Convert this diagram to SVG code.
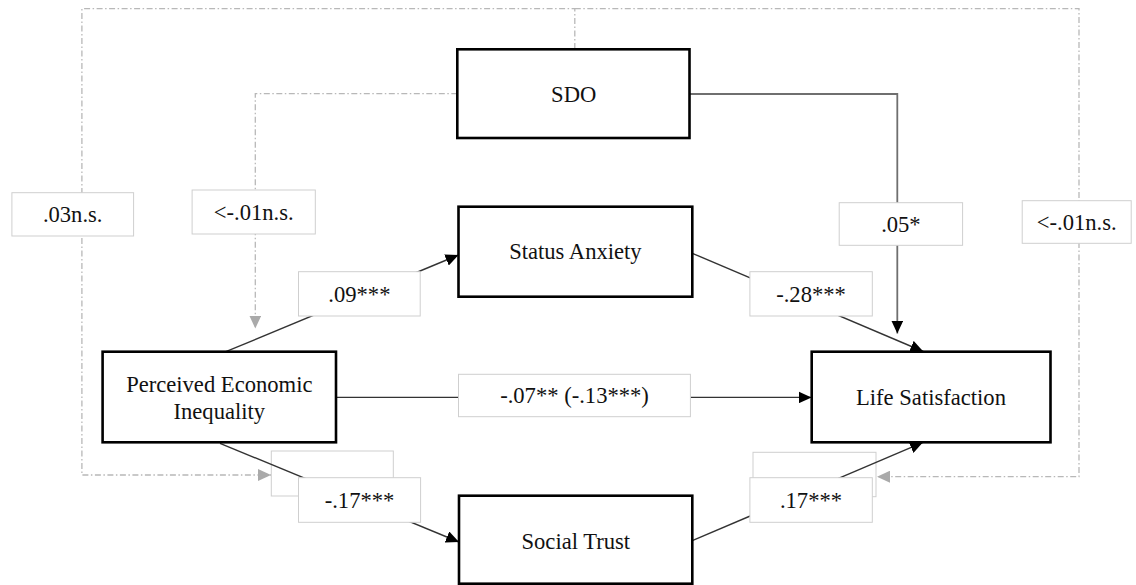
<svg xmlns="http://www.w3.org/2000/svg" width="1136" height="585" viewBox="0 0 1136 585">
<style>
.node rect{fill:#fff;stroke:#000;stroke-width:2.6}
text{font-family:'Liberation Serif','Times New Roman',Times,serif;font-size:22.6px;fill:#111;text-anchor:middle}
.lbl rect{fill:#fff;stroke:#cfcfcf;stroke-width:1}
.solid{fill:none;stroke:#333;stroke-width:1.4}
.grey{fill:none;stroke:#6f6f6f;stroke-width:1.8}
.dash{fill:none;stroke:#b8b8b8;stroke-width:1.3;stroke-dasharray:6 2.5 1.5 2.5}
</style>
<defs>
<marker id="ab" markerUnits="userSpaceOnUse" markerWidth="14" markerHeight="12" refX="13" refY="6" orient="auto"><path d="M0,0 L13,6 L0,12 z" fill="#000"/></marker>
<marker id="ag" markerUnits="userSpaceOnUse" markerWidth="14" markerHeight="12" refX="13" refY="6" orient="auto"><path d="M0,0 L13,6 L0,12 z" fill="#aaa"/></marker>
</defs>
<g id="connectors">
<path class="dash" d="M574.8,49 V8.7 H81.9 V475 H271" marker-end="url(#ag)"/>
<path class="dash" d="M574.8,8.7 H1079 V476.7 H877" marker-end="url(#ag)"/>
<path class="dash" d="M457.3,93.7 H255.3 V328.5" marker-end="url(#ag)"/>
<path class="grey" d="M689.5,94 H897.3 V333.5" marker-end="url(#ab)"/>
<line class="solid" x1="225.8" y1="351.7" x2="458.5" y2="255" marker-end="url(#ab)"/>
<line class="solid" x1="692.3" y1="253.3" x2="923.3" y2="351.5" marker-end="url(#ab)"/>
<line class="solid" x1="336" y1="397.4" x2="811.5" y2="397.4" marker-end="url(#ab)"/>
<g id="lbl-m17-back" class="lbl"><rect x="271.3" y="451" width="122" height="45"/></g>
<g id="lbl-p17-back" class="lbl"><rect x="753" y="452.3" width="123" height="44.4"/></g>
<line class="solid" x1="220" y1="443.3" x2="459" y2="542" marker-end="url(#ab)"/>
<line class="solid" x1="692.3" y1="540.7" x2="923" y2="442.3" marker-end="url(#ab)"/>
</g>
<g id="labels">
<g id="lbl-03" class="lbl"><rect x="11.9" y="192.7" width="121.7" height="43.3"/><text x="72.7" y="222">.03n.s.</text></g>
<g id="lbl-01a" class="lbl"><rect x="192.1" y="190" width="123.2" height="44"/><text x="253.7" y="220">&lt;-.01n.s.</text></g>
<g id="lbl-01b" class="lbl"><rect x="1022.2" y="200.7" width="109" height="42.6"/><text x="1076.7" y="230">&lt;-.01n.s.</text></g>
<g id="lbl-05" class="lbl"><rect x="839.2" y="202.7" width="123.4" height="42.6"/><text x="900.9" y="232">.05*</text></g>
<g id="lbl-09" class="lbl"><rect x="298.5" y="271.7" width="121.7" height="44.3"/><text x="359.4" y="302">.09***</text></g>
<g id="lbl-28" class="lbl"><rect x="749.9" y="271.7" width="122.4" height="44.3"/><text x="811" y="302">-.28***</text></g>
<g id="lbl-07" class="lbl"><rect x="458.5" y="374.3" width="231.9" height="42.4"/><text x="574.5" y="403">-.07** (-.13***)</text></g>
<g id="lbl-m17" class="lbl"><rect x="298.5" y="477.7" width="122.1" height="44.6"/><text x="359.5" y="508">-.17***</text></g>
<g id="lbl-p17" class="lbl"><rect x="749.9" y="477.7" width="122.4" height="44.6"/><text x="811" y="508">.17***</text></g>
</g>
<g id="node-sdo" class="node"><rect x="457.3" y="49.3" width="232.2" height="88.7"/><text x="573.7" y="102">SDO</text></g>
<g id="node-status" class="node"><rect x="458.5" y="206.7" width="233.8" height="90"/><text x="575.4" y="259">Status Anxiety</text></g>
<g id="node-pei" class="node"><rect x="102.6" y="351.7" width="233.4" height="90.6"/><text x="219.3" y="392">Perceived Economic</text><text x="219.3" y="419">Inequality</text></g>
<g id="node-life" class="node"><rect x="811.7" y="351.7" width="238.8" height="90.6"/><text x="931" y="405">Life Satisfaction</text></g>
<g id="node-trust" class="node"><rect x="459" y="495.7" width="233.3" height="88"/><text x="575.8" y="549">Social Trust</text></g>
</svg>
